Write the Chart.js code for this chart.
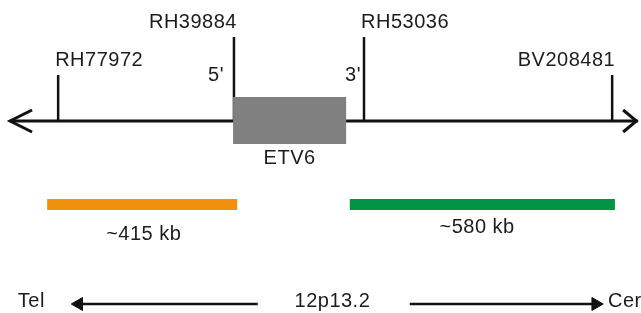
<!DOCTYPE html>
<html>
<head>
<meta charset="utf-8">
<script src="https://cdn.jsdelivr.net/npm/chart.js@4.4.0/dist/chart.umd.min.js"></script>
<style>
  html, body { margin: 0; padding: 0; background: #fff; }
  #wrap { width: 641px; height: 313px; }
</style>
</head>
<body>
<div id="wrap"><canvas id="mapCanvas"></canvas></div>
<script>
// positions along 12p13.2 in kb, heights in track units (main axis = 0)
const axisSpan = [22, 1393];
const markerNames = ['RH77972', 'RH39884', 'RH53036', 'BV208481'];
const markerPos = [127, 511, 795, 1337];
const markerHeight = [46, 84, 84, 46];
const geneName = 'ETV6';
const geneSpan = [509, 756];
const endLabels = ["5'", "3'"];
const deletionLabels = ['~415 kb', '~580 kb'];
const deletionStart = [103, 764];
const deletionEnd = [518, 1343];
const deletionColors = ['#f0900c', '#009445'];
const bandName = '12p13.2';
const tailLabels = ['Tel', 'Cer'];
const tailArrows = [[563, 172], [895, 1301]];

const ink = '#111';
const barLevel = -83.5;
const bottomLevel = -183;

const seg = (x1, y1, x2, y2) => [{ x: x1, y: y1 }, { x: x2, y: y2 }];

const datasets = [];

// ETV6 box (drawn above the axis)
datasets.push({
  data: seg(geneSpan[0], 0.5, geneSpan[1], 0.5),
  borderColor: '#808080',
  borderWidth: 47,
  borderCapStyle: 'butt',
  order: 0,
});

// marker ticks
markerPos.forEach((p, i) => {
  datasets.push({
    data: seg(p, 0, p, markerHeight[i]),
    borderColor: ink,
    borderWidth: 2.5,
    borderCapStyle: 'butt',
    order: 1,
  });
});

// main axis with open arrowheads
datasets.push({
  data: seg(axisSpan[0], 0, axisSpan[1], 0),
  borderColor: ink,
  borderWidth: 3,
  borderCapStyle: 'butt',
  order: 2,
});
datasets.push({
  data: [{ x: axisSpan[0] + 48, y: 11 }, { x: axisSpan[0], y: 0 }, { x: axisSpan[0] + 48, y: -11 }],
  borderColor: ink,
  borderWidth: 3,
  order: 2,
});
datasets.push({
  data: [{ x: axisSpan[1] - 32, y: 11 }, { x: axisSpan[1] - 3, y: 0 }, { x: axisSpan[1] - 32, y: -11 }],
  borderColor: ink,
  borderWidth: 3,
  order: 2,
});

// deletion bars
deletionStart.forEach((s, i) => {
  datasets.push({
    data: seg(s, barLevel, deletionEnd[i], barLevel),
    borderColor: deletionColors[i],
    borderWidth: 11,
    borderCapStyle: 'butt',
    order: 1,
  });
});

// Tel / Cen arrows
tailArrows.forEach((a, i) => {
  datasets.push({
    data: seg(a[0], bottomLevel, a[1], bottomLevel),
    borderColor: ink,
    borderWidth: 2.5,
    pointRadius: [0, 7.5],
    pointStyle: 'triangle',
    rotation: i === 0 ? -90 : 90,
    pointBackgroundColor: ink,
    pointBorderColor: ink,
    pointBorderWidth: 1,
    order: 1,
  });
});

const textPlugin = {
  id: 'mapText',
  afterDatasetsDraw(chart) {
    const { ctx, scales: { x, y } } = chart;
    ctx.save();
    ctx.font = '20px "Liberation Sans", Arial, sans-serif';
    ctx.letterSpacing = '0.5px';
    ctx.fillStyle = '#1c1c1c';
    ctx.textBaseline = 'middle';

    markerNames.forEach((name, i) => {
      const px = x.getPixelForValue(markerPos[i]);
      const top = y.getPixelForValue(markerHeight[i]);
      const left = i % 2 === 0;
      ctx.textAlign = left ? 'left' : 'right';
      ctx.fillText(name, px + (left ? -3 : 3), top - 15);
    });

    ctx.textAlign = 'right';
    ctx.fillText(endLabels[0], x.getPixelForValue(markerPos[1]) - 10, y.getPixelForValue(46));
    ctx.fillText(endLabels[1], x.getPixelForValue(markerPos[2]) - 3, y.getPixelForValue(46));

    ctx.textAlign = 'center';
    ctx.fillText(geneName, x.getPixelForValue((geneSpan[0] + geneSpan[1]) / 2), y.getPixelForValue(-37));

    ctx.fillText(deletionLabels[0], x.getPixelForValue(314), y.getPixelForValue(-113));
    ctx.fillText(deletionLabels[1], x.getPixelForValue(1042), y.getPixelForValue(-106));

    ctx.fillText(bandName, x.getPixelForValue(726), y.getPixelForValue(bottomLevel + 3));
    ctx.textAlign = 'left';
    ctx.fillText(tailLabels[0], x.getPixelForValue(39), y.getPixelForValue(bottomLevel + 3));
    ctx.fillText(tailLabels[1], x.getPixelForValue(1328), y.getPixelForValue(bottomLevel + 3));
    ctx.restore();
  },
};

new Chart(document.getElementById('mapCanvas').getContext('2d'), {
  type: 'line',
  data: { datasets },
  options: {
    responsive: true,
    maintainAspectRatio: false,
    animation: false,
    events: [],
    layout: { padding: 0, autoPadding: false },
    elements: { point: { radius: 0 }, line: { tension: 0, fill: false } },
    plugins: { legend: { display: false }, tooltip: { enabled: false } },
    scales: {
      x: { type: 'linear', min: 0, max: 1400, display: false },
      y: { type: 'linear', min: -192, max: 121, display: false },
    },
  },
  plugins: [textPlugin],
});
</script>
</body>
</html>
